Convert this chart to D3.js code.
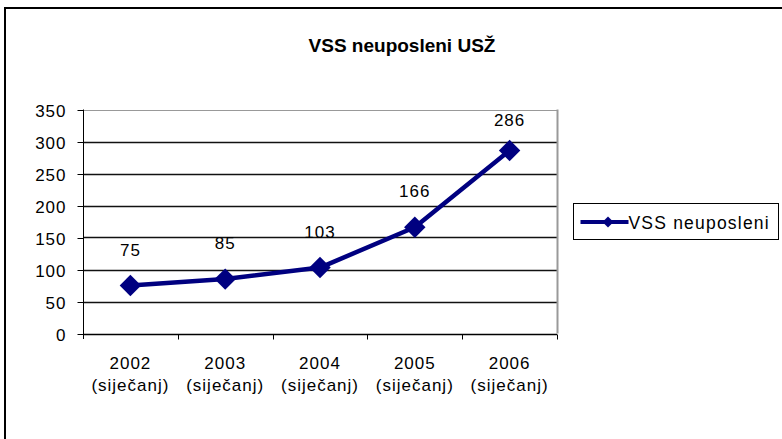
<!DOCTYPE html>
<html>
<head>
<meta charset="utf-8">
<script src="https://cdn.jsdelivr.net/npm/d3@7"></script>
<style>
	body { margin: 0; background: #fff; }
	text { font-family: "Liberation Sans", Arial, sans-serif; fill: #000; }
</style>
</head>
<body>
<div id="chart"></div>
<script>
var years = ['2002', '2003', '2004', '2005', '2006'];
var months = ['(siječanj)', '(siječanj)', '(siječanj)', '(siječanj)', '(siječanj)'];
var values = [75, 85, 103, 166, 286];
var yTicks = [0, 50, 100, 150, 200, 250, 300, 350];
var title = 'VSS neuposleni USŽ';
var seriesName = 'VSS neuposleni';

(function() {
	var width = 782, height = 439;
	var plot = {left: 83, right: 557, top: 109.5, bottom: 333.5};
	var navy = '#000080';

	var svg = d3.select('#chart')
		.append('svg')
			.attr('width', width)
			.attr('height', height);

	// Chart frame (right and bottom edges fall outside the picture)
	svg.append('rect')
		.attr('x', 5)
		.attr('y', 8)
		.attr('width', 820)
		.attr('height', 500)
		.style('fill', 'none')
		.style('stroke', '#000')
		.style('stroke-width', 2);

	svg.append('text')
		.attr('x', 402)
		.attr('y', 52)
		.attr('text-anchor', 'middle')
		.style('font-size', '19px')
		.style('font-weight', 'bold')
		.text(title);

	// Scales
	var x = d3.scaleBand().domain(years).range([plot.left, plot.right]);
	var y = d3.scaleLinear().domain([0, 350]).range([plot.bottom, plot.top]);

	// Gridlines
	svg.selectAll('.grid')
		.data(yTicks.filter(function(d) { return d > 0; }))
		.enter().append('line')
			.attr('class', 'grid')
			.attr('x1', plot.left)
			.attr('x2', plot.right)
			.attr('y1', function(d) { return Math.round(y(d)) + 0.5; })
			.attr('y2', function(d) { return Math.round(y(d)) + 0.5; })
			.style('stroke', function(d) { return d == 350 ? '#999' : '#111'; })
			.style('stroke-width', function(d) { return d == 350 ? 1 : 1.4; });

	svg.append('line')
		.attr('x1', plot.right + 0.5)
		.attr('x2', plot.right + 0.5)
		.attr('y1', plot.top)
		.attr('y2', plot.bottom)
		.style('stroke', '#999')
		.style('stroke-width', 2);

	// Y axis
	var yAxis = svg.append('g')
		.attr('transform', 'translate(' + (plot.left + 0.5) + ',0.5)')
		.call(d3.axisLeft(y).tickValues(yTicks).tickSize(6).tickPadding(11));
	yAxis.select('.domain')
		.attr('d', 'M0,' + (plot.top - 0.5) + 'V' + (plot.bottom + 5));
	yAxis.selectAll('line').style('stroke', '#000');
	yAxis.selectAll('text')
		.style('font-size', '17px')
		.style('letter-spacing', '1px')
		.style('font-family', '"Liberation Sans", Arial, sans-serif')
		.attr('dy', '0.36em');

	// X axis with ticks on category boundaries
	var bounds = years.map(function(d) { return x(d); }).concat([plot.right]);
	var xAxis = svg.append('g')
		.attr('transform', 'translate(0,' + (Math.round(plot.bottom) + 0.5) + ')');
	xAxis.append('line')
		.attr('x1', plot.left)
		.attr('x2', plot.right)
		.style('stroke', '#000')
		.style('stroke-width', 1.4);
	xAxis.selectAll('.tick')
		.data(bounds.slice(1))
		.enter().append('line')
			.attr('class', 'tick')
			.attr('x1', function(d) { return Math.round(d) + 0.5; })
			.attr('x2', function(d) { return Math.round(d) + 0.5; })
			.attr('y1', 0)
			.attr('y2', 5)
			.style('stroke', '#000');

	var labels = svg.selectAll('.xlabel')
		.data(years)
		.enter().append('text')
			.attr('class', 'xlabel')
			.attr('text-anchor', 'middle')
			.style('font-size', '17px')
			.style('letter-spacing', '1px');
	labels.append('tspan')
		.attr('x', function(d) { return x(d) + x.bandwidth() / 2; })
		.attr('y', 369)
		.text(function(d) { return d; });
	labels.append('tspan')
		.attr('x', function(d) { return x(d) + x.bandwidth() / 2; })
		.attr('y', 391)
		.text(function(d, i) { return months[i]; });

	// Series line
	var cx = function(d, i) { return x(years[i]) + x.bandwidth() / 2; };
	var line = d3.line()
		.x(cx)
		.y(function(d) { return y(d); });

	svg.append('path')
		.datum(values)
		.attr('d', line)
		.style('fill', 'none')
		.style('stroke', navy)
		.style('stroke-width', 4.5)
		.style('stroke-linejoin', 'round');

	var diamond = d3.symbol().type(d3.symbolSquare).size(230);
	svg.selectAll('.marker')
		.data(values)
		.enter().append('path')
			.attr('class', 'marker')
			.attr('d', diamond)
			.attr('transform', function(d, i) {
				return 'translate(' + cx(d, i) + ',' + y(d) + ') rotate(45)';
			})
			.style('fill', navy);

	// Data labels
	svg.selectAll('.value')
		.data(values)
		.enter().append('text')
			.attr('class', 'value')
			.attr('x', cx)
			.attr('y', function(d) { return Math.max(y(d) - 30, plot.top + 16.5); })
			.attr('text-anchor', 'middle')
			.style('font-size', '17px')
			.style('letter-spacing', '1px')
			.text(function(d) { return d; });

	// Legend
	var legend = svg.append('g')
		.attr('transform', 'translate(573.5,203.5)');
	legend.append('rect')
		.attr('width', 205)
		.attr('height', 36)
		.style('fill', '#fff')
		.style('stroke', '#000');
	legend.append('line')
		.attr('x1', 7)
		.attr('x2', 55)
		.attr('y1', 18.5)
		.attr('y2', 18.5)
		.style('stroke', navy)
		.style('stroke-width', 4);
	legend.append('path')
		.attr('d', d3.symbol().type(d3.symbolSquare).size(60))
		.attr('transform', 'translate(34.5,18.5) rotate(45)')
		.style('fill', navy);
	legend.append('text')
		.attr('x', 55)
		.attr('y', 25)
		.style('font-size', '17.5px')
		.style('letter-spacing', '1.2px')
		.text(seriesName);
})();
</script>
</body>
</html>
